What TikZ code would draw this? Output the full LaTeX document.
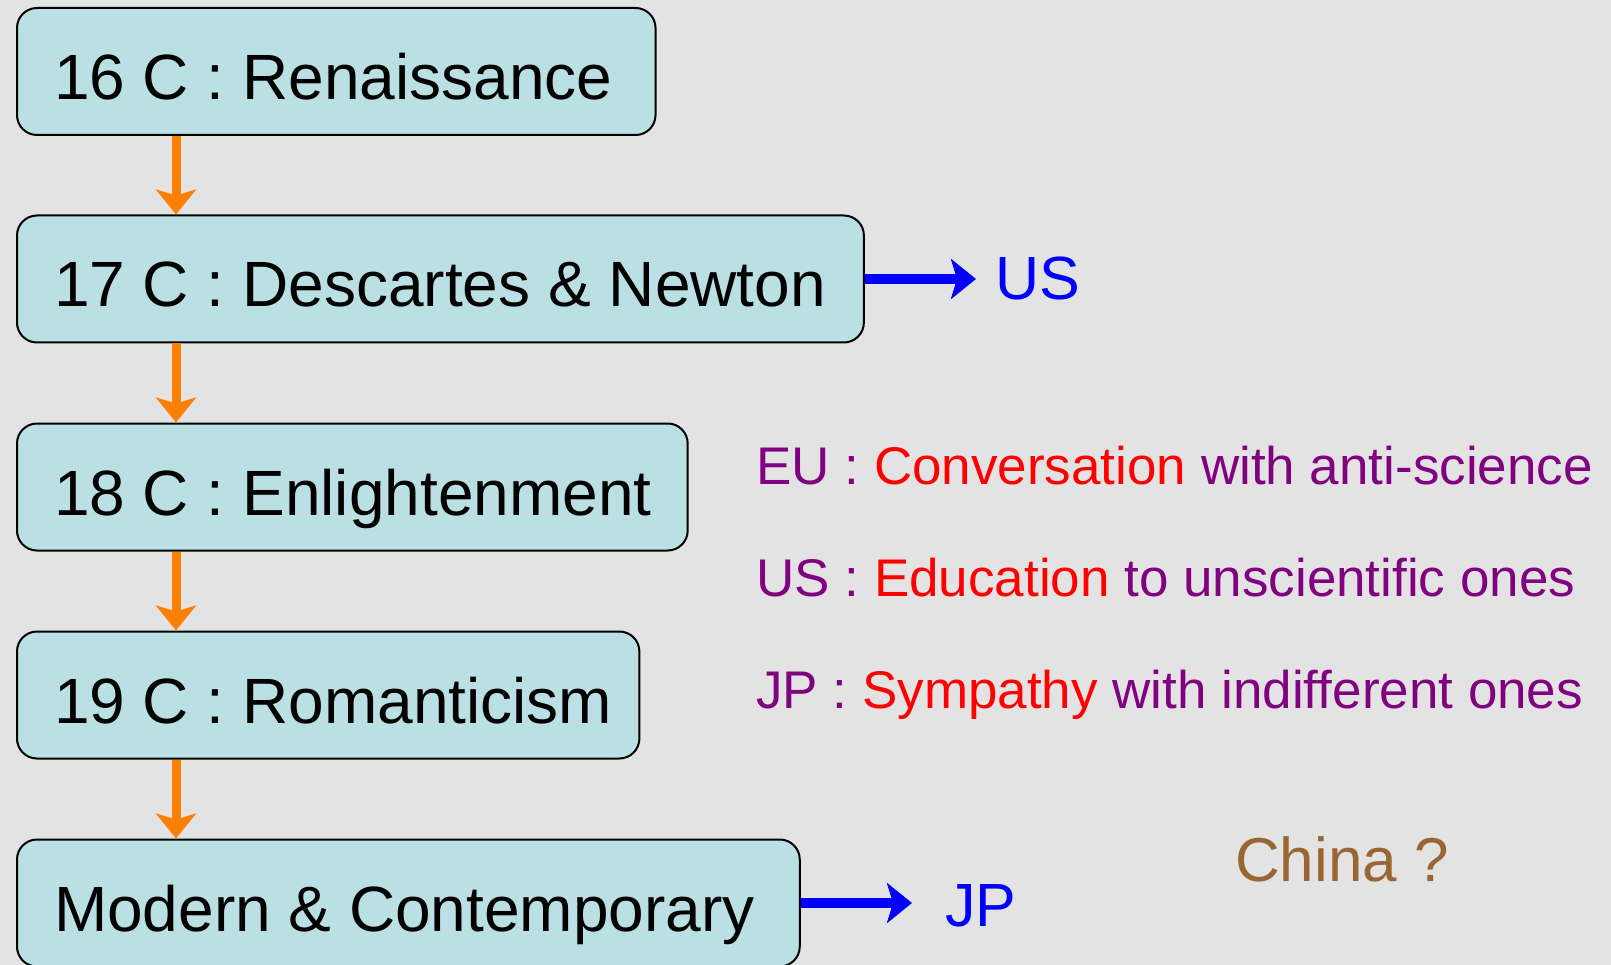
\documentclass[tikz,border=0pt]{standalone}
\usepackage{fontspec}
\setmainfont{Liberation Sans}
\usetikzlibrary{arrows.meta}
\definecolor{boxcyan}{HTML}{BBE0E3}
\definecolor{slide}{HTML}{E3E3E3}
\definecolor{spinecol}{HTML}{FF8000}
\definecolor{notecol}{HTML}{800080}
\definecolor{keycol}{HTML}{FF0000}
\definecolor{chinacol}{HTML}{996633}
\tikzset{
	period/.style={draw=black, line width=2pt, rounded corners=20pt, fill=boxcyan, anchor=west,
		inner xsep=37pt, inner ysep=0pt, minimum height=127pt, text height=56pt, text depth=0pt,
		font=\fontsize{64}{76}\selectfont},
	down/.style={draw=spinecol, line width=9pt, -{Stealth[length=25pt, width=40pt, inset=6pt]}},
	lead/.style={draw=blue, line width=10pt, -{Stealth[length=25pt, width=40pt, inset=6pt]}},
	country/.style={text=blue, inner sep=0pt, anchor=west, font=\fontsize{61}{72}\selectfont},
	remark/.style={text=notecol, inner sep=0pt, anchor=base west, font=\fontsize{53}{64}\selectfont}
}
\begin{document}
\begin{tikzpicture}[x=1pt, y=-1pt]
				\useasboundingbox (0,0) rectangle (1611,965);
				\fill[slide] (0,0) rectangle (1611,965);
				
				\node[period] (c16) at (16,71.5) {16 C : Renaissance\kern6pt};
				\node[period] (c17) at (16,279) {17 C : Descartes \& Newton\kern1pt};
				\node[period] (c18) at (16,487) {18 C : Enlightenment\kern-1pt};
				\node[period] (c19) at (16,695) {19 C : Romanticism\kern-10pt};
				\node[period] (now) at (16,903) {Modern \& Contemporary\kern8pt};
				
				\coordinate (spine) at (176,0);
				\draw[down] (spine |- c16.south) -- (spine |- c17.north);
				\draw[down] (spine |- c17.south) -- (spine |- c18.north);
				\draw[down] (spine |- c18.south) -- (spine |- c19.north);
				\draw[down] (spine |- c19.south) -- (spine |- now.north);
				
				\node[country] (us) at (995,279) {US};
				\node[country] (jp) at (945,906) {JP};
				\draw[lead, shorten >=19pt] (c17.east) -- (c17.east -| us.west);
				\draw[lead, shorten >=33pt] (now.east) -- (now.east -| jp.west);
				
				\node[remark] (eu) at (756,484) {EU : \textcolor{keycol}{Conversation} with anti-science};
				\node[remark] (usnote) at (756,596) {US : \textcolor{keycol}{Education} to unscientific ones};
				\node[remark] (jpnote) at (756,708) {JP : \textcolor{keycol}{Sympathy} with indifferent ones};
				
				\node[remark, text=chinacol, font=\fontsize{62}{72}\selectfont] (china) at (1235,881) {China ?};
			\end{tikzpicture}
\end{document}
